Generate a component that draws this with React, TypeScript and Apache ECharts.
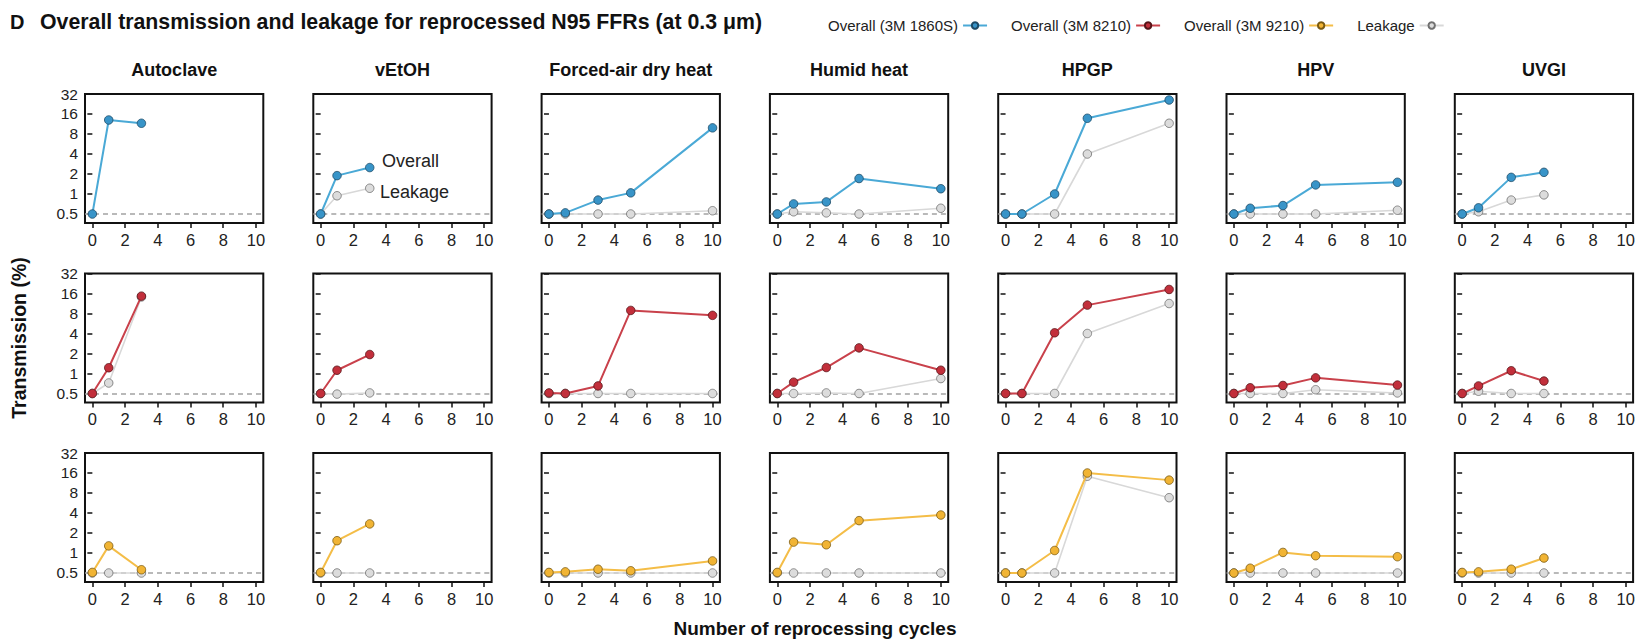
import React, { useEffect, useRef } from 'react';
import * as echarts from 'echarts';

const methods = ['Autoclave', 'vEtOH', 'Forced-air dry heat', 'Humid heat', 'HPGP', 'HPV', 'UVGI'];
const models = ['3M 1860S', '3M 8210', '3M 9210'];

const cyclesShort = [0, 1, 3];
const cyclesFull = [0, 1, 3, 5, 10];
const cyclesUVGI = [0, 1, 3, 5];
const cyclesByMethod = [cyclesShort, cyclesShort, cyclesFull, cyclesFull, cyclesFull, cyclesFull, cyclesUVGI];

// Overall transmission (%), per method, 3M 1860S
const overall1860S = [
  [0.5, 13, 11.6],
  [0.5, 1.89, 2.5],
  [0.5, 0.52, 0.81, 1.04, 9.9],
  [0.5, 0.71, 0.76, 1.71, 1.2],
  [0.5, 0.5, 1.0, 13.8, 26],
  [0.5, 0.61, 0.67, 1.37, 1.5],
  [0.5, 0.62, 1.78, 2.12],
];
const leakage1860S = [
  [],
  [0.5, 0.94, 1.22],
  [0.5, 0.5, 0.5, 0.5, 0.56],
  [0.5, 0.54, 0.52, 0.5, 0.61],
  [0.5, 0.5, 0.5, 4.0, 11.6],
  [0.5, 0.5, 0.5, 0.5, 0.57],
  [0.5, 0.54, 0.81, 0.97],
];

// 3M 8210
const overall8210 = [
  [0.5, 1.22, 14.6],
  [0.5, 1.12, 1.93],
  [0.51, 0.5, 0.65, 8.9, 7.5],
  [0.5, 0.74, 1.23, 2.43, 1.12],
  [0.5, 0.5, 4.1, 10.7, 18.4],
  [0.5, 0.61, 0.66, 0.86, 0.67],
  [0.5, 0.65, 1.1, 0.77],
];
const leakage8210 = [
  [0.5, 0.72, 14.2],
  [0.5, 0.49, 0.51],
  [0.5, 0.5, 0.5, 0.5, 0.5],
  [0.5, 0.5, 0.51, 0.5, 0.84],
  [0.5, 0.5, 0.5, 4.0, 11.3],
  [0.5, 0.5, 0.5, 0.57, 0.51],
  [0.5, 0.54, 0.5, 0.5],
];

// 3M 9210
const overall9210 = [
  [0.51, 1.28, 0.56],
  [0.51, 1.53, 2.74],
  [0.51, 0.52, 0.57, 0.54, 0.76],
  [0.51, 1.46, 1.33, 3.07, 3.73],
  [0.5, 0.5, 1.09, 16, 12.5],
  [0.5, 0.59, 1.02, 0.91, 0.88],
  [0.51, 0.52, 0.57, 0.84],
];
const leakage9210 = [
  [0.5, 0.5, 0.5],
  [0.5, 0.5, 0.5],
  [0.5, 0.5, 0.5, 0.5, 0.5],
  [0.5, 0.5, 0.5, 0.5, 0.5],
  [0.5, 0.5, 0.5, 14.3, 6.8],
  [0.5, 0.5, 0.5, 0.5, 0.5],
  [0.5, 0.5, 0.5, 0.5],
];

const overallByModel = [overall1860S, overall8210, overall9210];
const leakageByModel = [leakage1860S, leakage8210, leakage9210];

const yTicks = [0.5, 1, 2, 4, 8, 16, 32];
const xTicks = [0, 2, 4, 6, 8, 10];
const detectionLimit = 0.5;

const FONT = '"Liberation Sans", Arial, Helvetica, sans-serif';
const modelLine = ['#4aa9d6', '#c9414b', '#f4bd47'];
const modelFill = ['#3894c8', '#c22f3b', '#f1b434'];
const modelBorder = ['#1d4a66', '#561418', '#7a5a12'];

const GL = 85;
const GPITCH = 228.3;
const GW = 178.3;
const GT = 94;
const RPITCH = 179.5;
const GH = 129;

function buildOption() {
  const grid: any[] = [];
  const xAxis: any[] = [];
  const yAxis: any[] = [];
  const series: any[] = [];
  for (let r = 0; r < 3; r++) {
    for (let c = 0; c < 7; c++) {
      const idx = r * 7 + c;
      grid.push({
        left: GL + GPITCH * c,
        top: GT + RPITCH * r,
        width: GW,
        height: GH,
        show: true,
        borderColor: '#111',
        borderWidth: 2,
        backgroundColor: 'transparent',
      });
      xAxis.push({
        gridIndex: idx,
        type: 'value',
        min: -0.45,
        max: 10.45,
        axisLine: { show: false },
        splitLine: { show: false },
        axisTick: { show: true, length: 5, customValues: xTicks, lineStyle: { color: '#111', width: 1.5 } },
        axisLabel: { customValues: xTicks, fontSize: 16.5, color: '#222', margin: 8, fontFamily: FONT },
      });
      yAxis.push({
        gridIndex: idx,
        type: 'log',
        logBase: 2,
        min: 0.366,
        max: 32,
        axisLine: { show: false },
        splitLine: { show: false },
        minorTick: { show: false },
        axisTick: { show: true, length: 5, customValues: yTicks, lineStyle: { color: '#111', width: 1.5 } },
        axisLabel: {
          show: c === 0,
          customValues: yTicks,
          fontSize: 15.5,
          color: '#222',
          margin: 7,
          fontFamily: FONT,
          formatter: (v: number) => String(v),
        },
      });
      const xs = cyclesByMethod[c];
      const leak = leakageByModel[r][c];
      const over = overallByModel[r][c];
      series.push({
        type: 'line',
        name: 'Leakage',
        xAxisIndex: idx,
        yAxisIndex: idx,
        data: leak.map((v, i) => [xs[i], v]),
        symbol: 'circle',
        symbolSize: 8.5,
        z: 2,
        lineStyle: { color: '#d8d8d8', width: 1.6 },
        itemStyle: { color: '#dcdcdc', borderColor: '#707070', borderWidth: 0.8 },
        markLine: {
          silent: true,
          symbol: 'none',
          label: { show: false },
          lineStyle: { color: '#a3a3a3', type: [5, 4], width: 1.5 },
          data: [{ yAxis: detectionLimit }],
          z: 1,
        },
      });
      series.push({
        type: 'line',
        name: `Overall (${models[r]})`,
        xAxisIndex: idx,
        yAxisIndex: idx,
        data: over.map((v, i) => [xs[i], v]),
        symbol: 'circle',
        symbolSize: 8.5,
        z: 4,
        lineStyle: { color: modelLine[r], width: 2 },
        itemStyle: { color: modelFill[r], borderColor: modelBorder[r], borderWidth: 0.8 },
      });
    }
  }

  const graphic: any[] = [
    { type: 'text', x: 10, y: 22, style: { text: 'D', font: `bold 20px ${FONT}`, fill: '#111', textVerticalAlign: 'middle' } },
    {
      type: 'text',
      x: 40,
      y: 22,
      style: {
        text: 'Overall transmission and leakage for reprocessed N95 FFRs (at 0.3 μm)',
        font: `bold 21.3px ${FONT}`,
        fill: '#111',
        textVerticalAlign: 'middle',
      },
    },
    {
      type: 'text',
      x: 19,
      y: 338,
      rotation: Math.PI / 2,
      style: { text: 'Transmission (%)', font: `bold 19.5px ${FONT}`, fill: '#111', textAlign: 'center', textVerticalAlign: 'middle' },
    },
    {
      type: 'text',
      x: 815,
      y: 628,
      style: { text: 'Number of reprocessing cycles', font: `bold 19px ${FONT}`, fill: '#111', textAlign: 'center', textVerticalAlign: 'middle' },
    },
    { type: 'text', x: 382, y: 161, style: { text: 'Overall', font: `18px ${FONT}`, fill: '#222', textVerticalAlign: 'middle' } },
    { type: 'text', x: 380, y: 192, style: { text: 'Leakage', font: `18px ${FONT}`, fill: '#222', textVerticalAlign: 'middle' } },
  ];
  methods.forEach((m, c) => {
    graphic.push({
      type: 'text',
      x: GL + GPITCH * c + GW / 2,
      y: 70,
      style: { text: m, font: `bold 18px ${FONT}`, fill: '#111', textAlign: 'center', textVerticalAlign: 'middle' },
    });
  });

  return {
    animation: false,
    backgroundColor: '#fff',
    legend: {
      left: 823,
      top: 13,
      align: 'right',
      itemGap: 23,
      itemWidth: 24,
      itemHeight: 8,
      textStyle: { fontSize: 15, color: '#222', fontFamily: FONT },
      data: models.map((m) => `Overall (${m})`).concat(['Leakage']),
    },
    grid,
    xAxis,
    yAxis,
    series,
    graphic,
  };
}

export default function App() {
  const ref = useRef<HTMLDivElement>(null);
  useEffect(() => {
    document.body.style.margin = '0';
    const chart = echarts.init(ref.current!, null, { renderer: 'svg' });
    chart.setOption(buildOption() as any);
    return () => chart.dispose();
  }, []);
  return <div ref={ref} style={{ width: 1642, height: 639 }} />;
}
